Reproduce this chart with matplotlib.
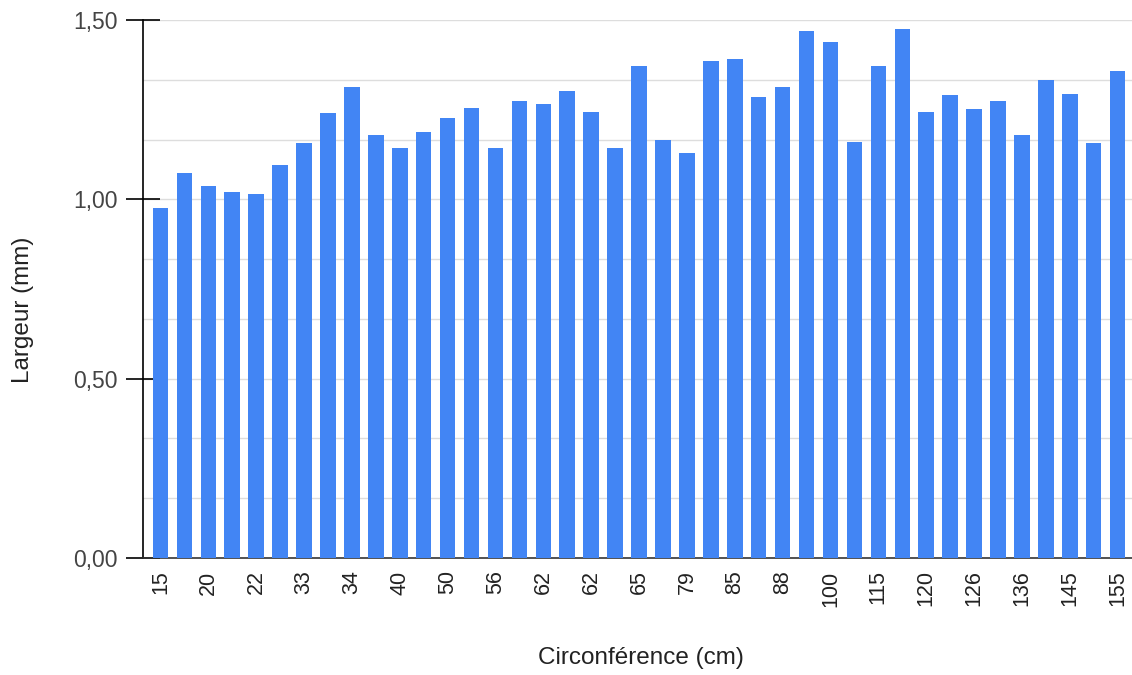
import numpy as np
import matplotlib.pyplot as plt
from matplotlib.ticker import FixedLocator, FuncFormatter

# --- Daten ---
largeur = [0.977, 1.073, 1.038, 1.021, 1.016, 1.095, 1.156, 1.240, 1.312, 1.179,
           1.144, 1.189, 1.228, 1.256, 1.144, 1.273, 1.267, 1.301, 1.244, 1.144,
           1.373, 1.166, 1.128, 1.385, 1.390, 1.284, 1.312, 1.468, 1.440, 1.161,
           1.373, 1.474, 1.244, 1.290, 1.251, 1.273, 1.178, 1.334, 1.295, 1.156,
           1.357]
# nur jede zweite Kategorie ist beschriftet
labels_sichtbar = ["15", "20", "22", "33", "34", "40", "50", "56", "62", "62", "65",
                   "79", "85", "88", "100", "115", "120", "126", "136", "145", "155"]

plt.rcParams['font.family'] = ['Liberation Sans', 'DejaVu Sans']

W, H = 1132, 675
fig = plt.figure(figsize=(W / 100, H / 100), dpi=100)
ax = fig.add_axes([143 / W, 1 - 558 / H, 1 - 143 / W, (558 - 20) / H])

x = np.arange(len(largeur))
ax.bar(x, largeur, width=0.65, color="#4285F4", zorder=3)

ax.set_xlim(-0.73, 40.6)
ax.set_ylim(0, 1.5)

# Gitter alle 1/6, beschriftet nur 0, 0.5, 1, 1.5
grid_y = np.linspace(0, 1.5, 10)
for gy in grid_y[1:]:
    ax.axhline(gy, color="#dddddd", linewidth=1, zorder=1)

ax.yaxis.set_major_locator(FixedLocator([0, 0.5, 1.0, 1.5]))
ax.yaxis.set_major_formatter(FuncFormatter(lambda v, p: f"{v:.2f}".replace(".", ",")))
ax.tick_params(axis="y", direction="inout", length=24, width=1.2, color="black",
               labelsize=16.5, labelcolor="#444444", pad=6)

ax.set_xticks(x[::2])
ax.set_xticklabels(labels_sichtbar, rotation=90)
ax.tick_params(axis="x", length=0, labelsize=15.5, labelcolor="#222222", pad=9)

for s in ["top", "right"]:
    ax.spines[s].set_visible(False)
ax.spines["left"].set_linewidth(1.2)
ax.spines["bottom"].set_linewidth(1.2)
ax.spines["bottom"].set_color("#333333")

fig.text(641 / W, 1 - 658 / H, "Circonférence (cm)", fontsize=17.5, color="#222222",
         ha="center", va="center")
fig.text(23 / W, 1 - 310 / H, "Largeur (mm)", fontsize=17.5, color="#222222",
         ha="center", va="center", rotation=90)

fig.savefig("out.png", dpi=100)
